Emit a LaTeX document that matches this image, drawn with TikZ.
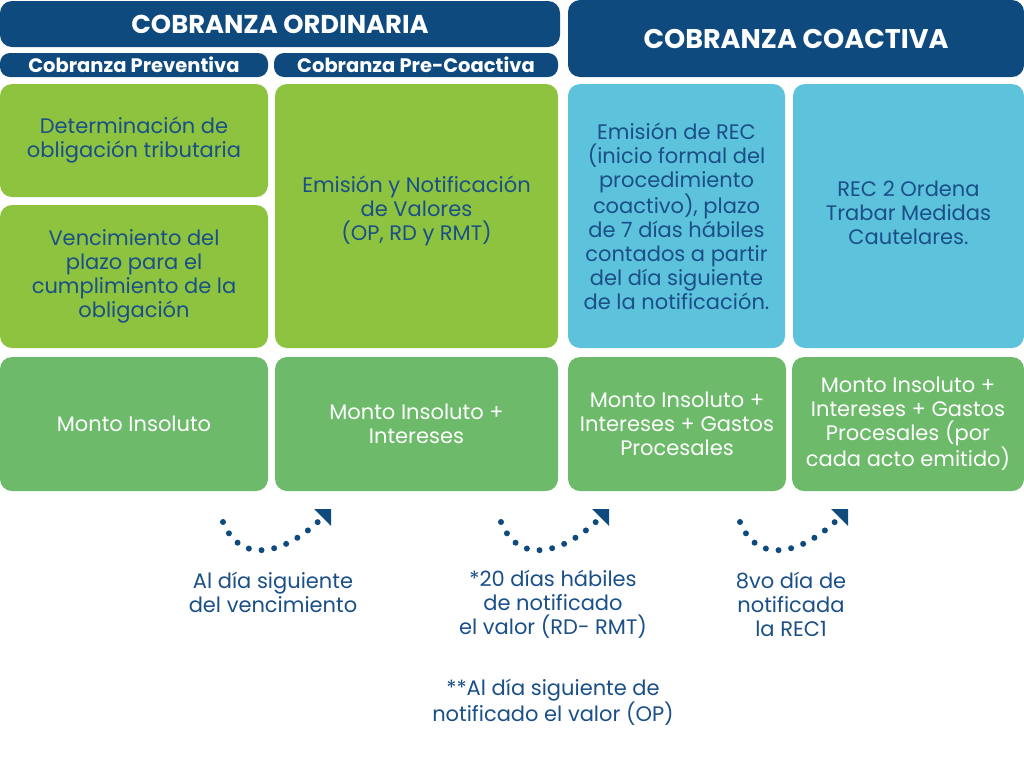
\documentclass[tikz,border=0pt]{standalone}
\usepackage{fontspec}
\setmainfont{Poppins}
\usetikzlibrary{arrows.meta}
\definecolor{navy}{HTML}{0E4A7E}
\definecolor{lime}{HTML}{8DC33F}
\definecolor{sky}{HTML}{5DC2DB}
\definecolor{leaf}{HTML}{6CBA6A}
\definecolor{ink}{HTML}{1A4F88}
\tikzset{
  panel/.style={rounded corners=12pt, inner sep=0pt, align=center, text=ink,
    font=\fontsize{21}{24}\selectfont},
  lowpanel/.style={panel, fill=leaf, text=white, minimum height=134pt},
  bighead/.style={rounded corners=12pt, fill=navy, text=white, inner sep=0pt},
  subhead/.style={rounded corners=10pt, fill=navy, text=white, inner sep=0pt,
    minimum height=24pt, font=\bfseries\fontsize{19.5}{22}\selectfont},
  note/.style={align=center, text=ink, font=\fontsize{21}{24}\selectfont},
  dotarrow/.style={draw=navy, line width=6pt, line cap=round,
    dash pattern=on 0pt off 12.8pt,
    -{Triangle[length=12pt,width=24pt,line width=0pt]}}
}
\begin{document}
\begin{tikzpicture}[x=1pt,y=-1pt]
\useasboundingbox (0,0) rectangle (1024,756);
% headers
\node[bighead, minimum width=560pt, minimum height=46pt,
  font=\bfseries\fontsize{25.8}{30}\selectfont] (ho) at (280,24) {COBRANZA ORDINARIA};
\node[subhead, minimum width=268pt] (hp) at (134,65) {Cobranza Preventiva};
\node[subhead, minimum width=284pt] (hpc) at (416,65) {Cobranza Pre-Coactiva};
\node[bighead, minimum width=456pt, minimum height=77pt,
  font=\bfseries\fontsize{27}{30}\selectfont] (hc) at (796,38.5) {COBRANZA COACTIVA};
% upper panels
\node[panel, fill=lime, minimum width=268pt, minimum height=113pt] (a1) at (134,140.5)
  {Determinación de\\obligación tributaria};
\node[panel, fill=lime, minimum width=268pt, minimum height=143pt] (a2) at (134,276.5)
  {Vencimiento del\\plazo para el\\cumplimiento de la\\obligación};
\node[panel, fill=lime, minimum width=283pt, minimum height=264pt] (b) at (416.5,216) {};
\node[note] (bt) at (416.5,211) {Emisión y Notificación\\de Valores\\(OP, RD y RMT)};
\node[panel, fill=sky, minimum width=217pt, minimum height=264pt] (c) at (676.5,216)
  {Emisión de REC\\(inicio formal del\\procedimiento\\coactivo), plazo\\de 7 días hábiles\\contados a partir\\del día siguiente\\de la notificación.};
\node[panel, fill=sky, minimum width=231pt, minimum height=264pt] (d) at (908.5,216) {};
\node[note] (dt) at (908.5,213) {REC 2 Ordena\\Trabar Medidas\\Cautelares.};
% lower panels
\node[lowpanel, minimum width=268pt] (e1) at (134,424) {Monto Insoluto};
\node[lowpanel, minimum width=283pt] (e2) at (416.5,424) {Monto Insoluto +\\Intereses};
\node[lowpanel, minimum width=218pt] (e3) at (677,424) {Monto Insoluto +\\Intereses + Gastos\\Procesales};
\node[lowpanel, minimum width=232pt] (e4) at (908,424) {Monto Insoluto +\\Intereses + Gastos\\Procesales (por\\cada acto emitido)};
% arrows
\foreach \i/\dx in {1/0, 2/278, 3/517} {
  \coordinate (s\i) at (223+\dx,522);
  \coordinate (t\i) at (331+\dx,509);
  \draw[dotarrow] (s\i) .. controls (240+\dx,565) and (285+\dx,555) .. (t\i);
}
% notes
\node[note] (n1) at (273,592) {Al día siguiente\\del vencimiento};
\node[note] (n2) at (553,604) {*20 días hábiles\\de notificado\\el valor (RD- RMT)};
\node[note] (n3) at (791,604) {8vo día de\\notificada\\la REC1};
\node[note] (n4) at (553,702) {**Al día siguiente de\\notificado el valor (OP)};
\end{tikzpicture}
\end{document}
